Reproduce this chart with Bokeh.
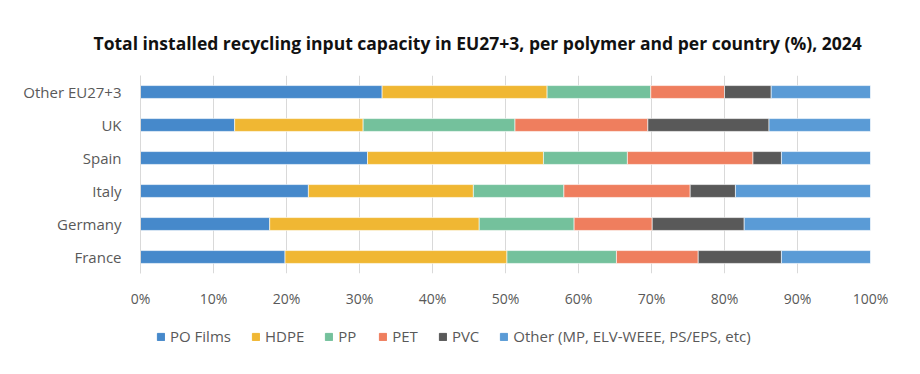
from bokeh.plotting import figure
from bokeh.models import Legend, LegendItem, FactorRange, Title, FixedTicker
from bokeh.layouts import column
from bokeh.embed import file_html
from bokeh.resources import INLINE

countries = ["France", "Germany", "Italy", "Spain", "UK", "Other EU27+3"]
polymers = ["PO Films", "HDPE", "PP", "PET", "PVC", "Other (MP, ELV-WEEE, PS/EPS, etc)"]
po_films = [19.8, 17.7, 23.0, 31.1, 12.9, 33.1]
hdpe = [30.4, 28.7, 22.6, 24.1, 17.6, 22.6]
pp = [15.0, 13.0, 12.4, 11.5, 20.8, 14.2]
pet = [11.2, 10.7, 17.3, 17.2, 18.2, 10.1]
pvc = [11.4, 12.6, 6.2, 3.9, 16.6, 6.4]
other = [12.2, 17.3, 18.5, 12.2, 13.9, 13.6]
ticks = [0, 10, 20, 30, 40, 50, 60, 70, 80, 90, 100]
tick_labels = ["0%", "10%", "20%", "30%", "40%", "50%", "60%", "70%", "80%", "90%", "100%"]
colors = ["#4689cb", "#f0b733", "#74c19c", "#ef7e5e", "#595959", "#5a9bd6"]

keys = ["po", "hdpe", "pp", "pet", "pvc", "other"]
data = dict(country=countries, po=po_films, hdpe=hdpe, pp=pp, pet=pet, pvc=pvc, other=other)

p = figure(width=910, height=313, y_range=FactorRange(*countries), x_range=(0, 100),
           output_backend="svg", toolbar_location=None,
           min_border_left=140, min_border_right=40, min_border_top=75, min_border_bottom=40)

renderers = p.hbar_stack(keys, y="country", height=0.39, color=colors, source=data,
                         line_color="white", line_width=0.6)

t = Title(text="Total installed recycling input capacity in EU27+3, per polymer and per country (%), 2024",
          text_font="Open Sans", text_font_size="17.5px", text_font_style="bold",
          text_color="#111111", align="left", offset=-47, standoff=42)
p.add_layout(t, "above")

p.xaxis.ticker = FixedTicker(ticks=ticks)
p.xaxis.major_label_overrides = {t_: l for t_, l in zip(ticks, tick_labels)}
p.xaxis.axis_line_color = None
p.xaxis.major_tick_line_color = None
p.xaxis.minor_tick_line_color = None
p.xaxis.major_label_text_font = "Open Sans"
p.xaxis.major_label_text_font_size = "14px"
p.xaxis.major_label_text_color = "#595959"
p.xaxis.major_label_standoff = 9

p.yaxis.axis_line_color = "#d9d9d9"
p.yaxis.major_tick_line_color = None
p.yaxis.minor_tick_line_color = None
p.yaxis.major_label_text_font = "Open Sans"
p.yaxis.major_label_text_font_size = "15px"
p.yaxis.major_label_text_color = "#595959"
p.yaxis.major_label_standoff = 13

p.ygrid.grid_line_color = None
p.xgrid.grid_line_color = "#d9d9d9"
p.outline_line_color = None
p.y_range.range_padding = 0

# legend panel (its frame is aligned with the main frame by the column layout)
p2 = figure(width=910, height=50, x_axis_type=None, y_axis_type=None,
            x_range=(0, 100), y_range=FactorRange(*countries),
            output_backend="svg", toolbar_location=None,
            min_border_left=0, min_border_right=0, min_border_top=0, min_border_bottom=0)
p2.grid.grid_line_color = None
p2.outline_line_color = None
leg_renderers = p2.hbar_stack(keys, y="country", height=0.39, color=colors, source=data)
for r in leg_renderers:
    r.visible = False

legend = Legend(items=[LegendItem(label=lab, renderers=[r]) for lab, r in zip(polymers, leg_renderers)],
                orientation="horizontal", location=(16, 17),
                label_text_font="Open Sans", label_text_font_size="15px", label_text_color="#595959",
                glyph_width=9, glyph_height=9, label_standoff=5, spacing=20,
                border_line_color=None, background_fill_alpha=0, margin=0, padding=0,
                inactive_fill_alpha=0)
p2.add_layout(legend, "center")

layout = column(p, p2, spacing=0)
open("out.html", "w").write(file_html(layout, INLINE))
